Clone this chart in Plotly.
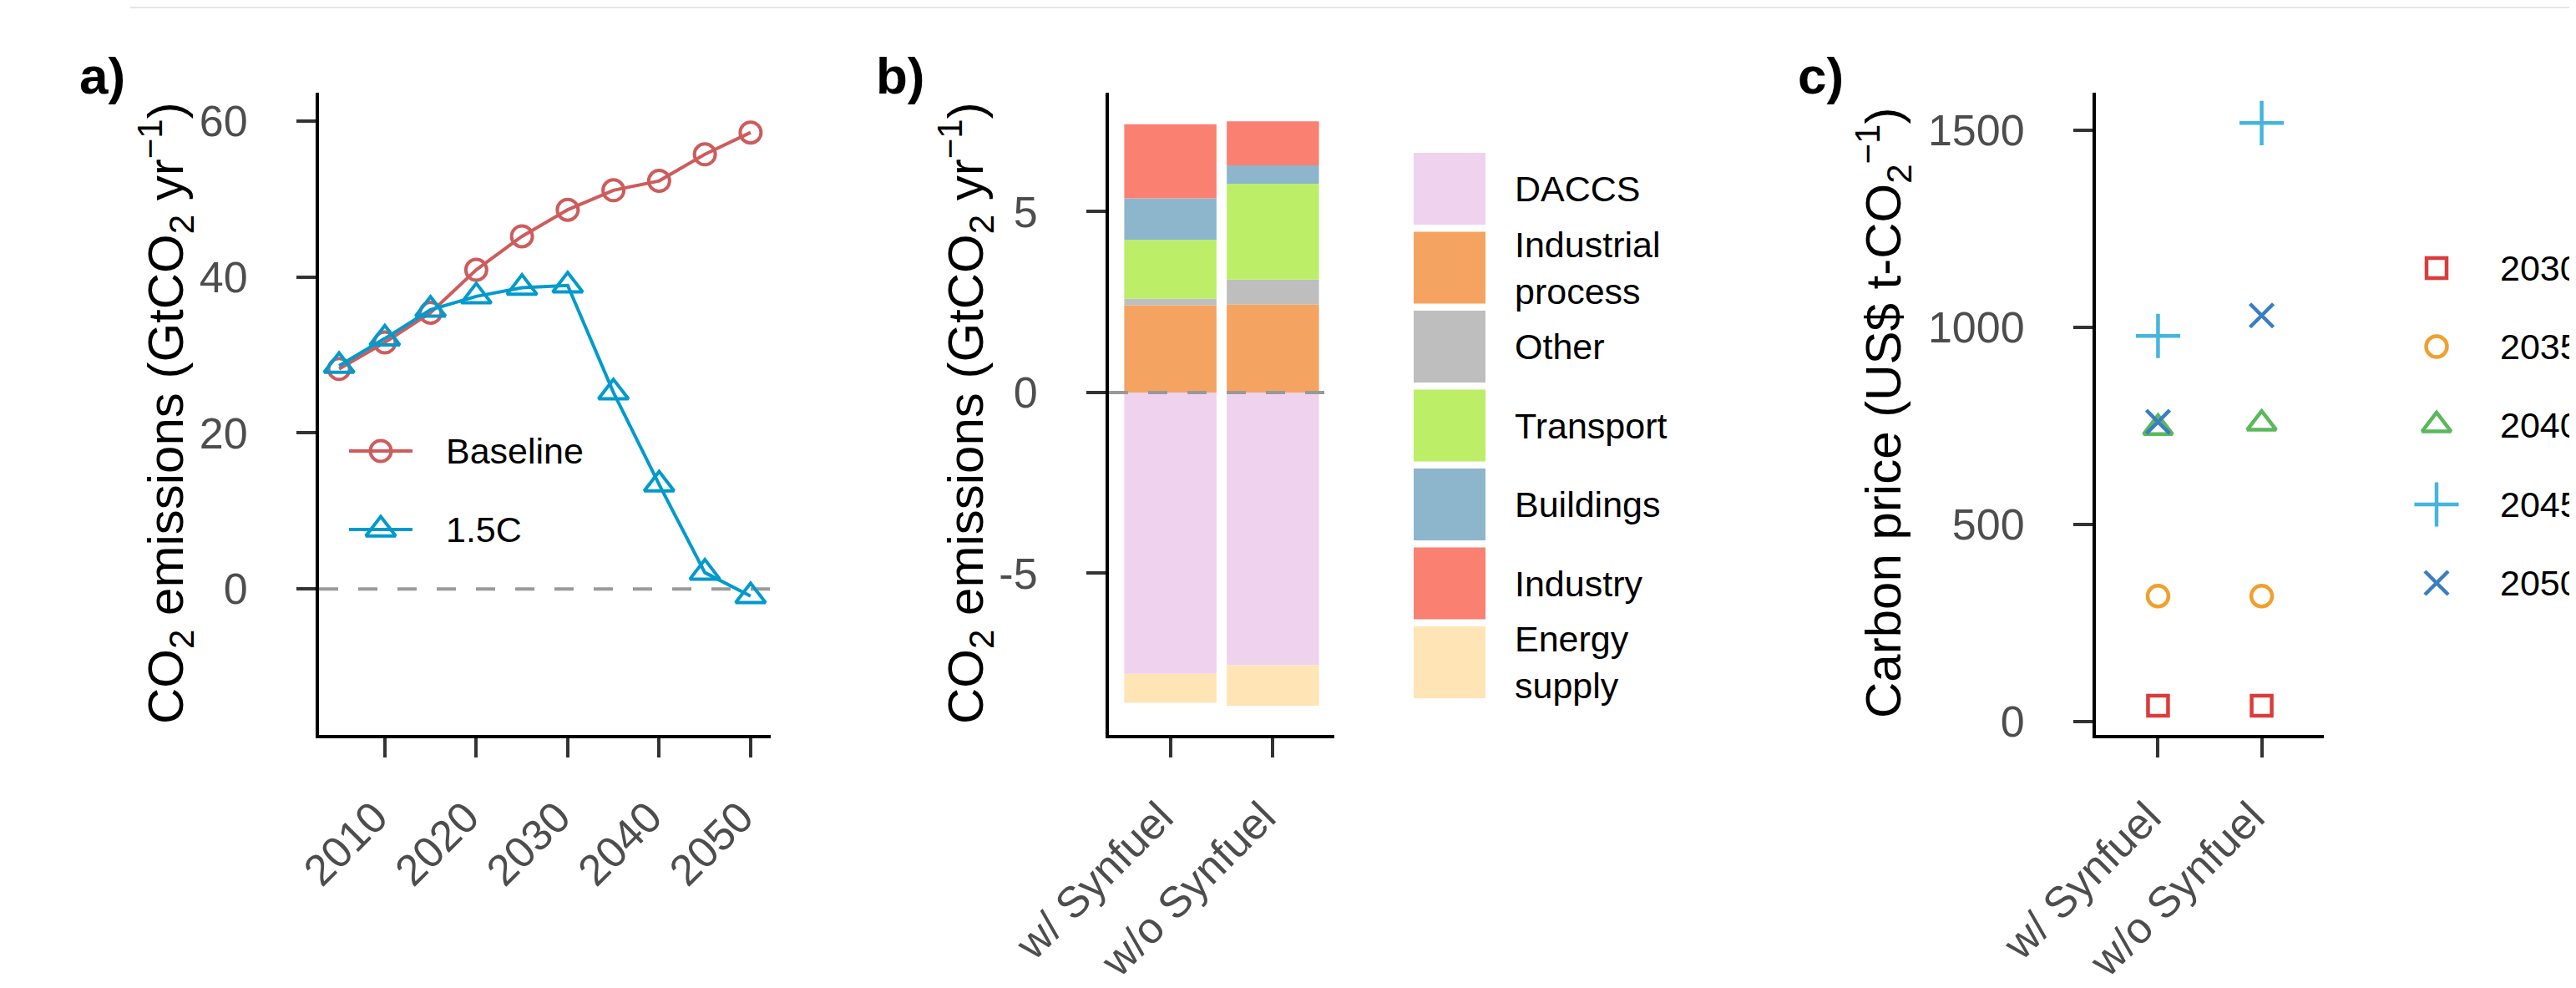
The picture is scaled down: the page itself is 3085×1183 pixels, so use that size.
import plotly.graph_objects as go

# ---------------- data ----------------
years = [2005, 2010, 2015, 2020, 2025, 2030, 2035, 2040, 2045, 2050]
baseline = [28.2, 31.6, 35.4, 40.9, 45.2, 48.6, 51.1, 52.3, 55.7, 58.5]
pathway_15c = [28.6, 32.1, 35.8, 37.5, 38.6, 38.9, 25.2, 13.4, 2.1, -0.9]
year_ticks = [2010, 2020, 2030, 2040, 2050]

scenarios = ["w/ Synfuel", "w/o Synfuel"]
sectors = ["DACCS", "Industrial process", "Other", "Transport", "Buildings", "Industry", "Energy supply"]
sector_labels = ["DACCS", "Industrial<br>process", "Other", "Transport", "Buildings", "Industry", "Energy<br>supply"]
daccs = [-7.78, -7.54]
industrial_process = [2.41, 2.43]
other = [0.18, 0.69]
transport = [1.63, 2.65]
buildings = [1.15, 0.51]
industry = [2.05, 1.22]
energy_supply = [-0.80, -1.12]
sector_values = [daccs, industrial_process, other, transport, buildings, industry, energy_supply]
sector_colors = ["#EED2EE", "#F4A460", "#BEBEBE", "#BCEE68", "#8DB6CD", "#FA8072", "#FFE4B5"]

price_years = ["2030", "2035", "2040", "2045", "2050"]
price_w_synfuel = [40, 318, 745, 978, 760]
price_wo_synfuel = [40, 318, 756, 1518, 1030]
price_symbols = ["square-open", "circle-open", "triangle-up-open", "cross-thin-open", "x-thin-open"]
price_sizes = [24, 25, 30, 38, 28]
price_colors = ["#DC3B3B", "#F0A02E", "#5BB85C", "#45B5DD", "#3A7DC2"]

# ---------------- layout helpers ----------------
W, H = 3085, 1183
FONT = "Liberation Sans, Arial, sans-serif"
TICKFONT = dict(family=FONT, size=52, color="#4D4D4D")
BASE_COL = "#CD5C5C"
C15_COL = "#009ACD"
LEGFONT = dict(family=FONT, size=43, color="black")


def xd(a, b):
    return [a / W, b / W]


YDOM = [1 - 872 / H, 1 - 103 / H]

axis_common = dict(showline=True, linecolor="black", linewidth=4, ticks="outside",
                   ticklen=23, tickwidth=4, tickcolor="#333333", showgrid=False,
                   zeroline=False, tickfont=TICKFONT, fixedrange=True, automargin=False)
xaxis_common = dict(tickangle=-45, ticklabelshift=-12, ticklabelstandoff=20, **axis_common)
yaxis_common = dict(ticklabelstandoff=48, **axis_common)

fig = go.Figure()

# ---- panel a ----
fig.add_trace(go.Scatter(x=years, y=baseline, mode="lines+markers", xaxis="x", yaxis="y",
                         line=dict(color=BASE_COL, width=4),
                         marker=dict(symbol="circle-open", size=25, color=BASE_COL,
                                     line=dict(width=4, color=BASE_COL)),
                         showlegend=False))
fig.add_trace(go.Scatter(x=years, y=pathway_15c, mode="lines+markers", xaxis="x", yaxis="y",
                         line=dict(color=C15_COL, width=4),
                         marker=dict(symbol="triangle-up-open", size=31, color=C15_COL,
                                     line=dict(width=4, color=C15_COL)),
                         showlegend=False))

# ---- panel b ----
for name, vals, col in zip(sectors, sector_values, sector_colors):
    fig.add_trace(go.Bar(x=scenarios, y=vals, name=name, xaxis="x2", yaxis="y2",
                         marker=dict(color=col, line=dict(width=0)), width=0.9,
                         showlegend=False))

# ---- panel c ----
for i, yr in enumerate(price_years):
    fig.add_trace(go.Scatter(x=scenarios, y=[price_w_synfuel[i], price_wo_synfuel[i]],
                             mode="markers", xaxis="x3", yaxis="y3", name=yr,
                             marker=dict(symbol=price_symbols[i], size=price_sizes[i], color=price_colors[i],
                                         line=dict(width=4.5, color=price_colors[i])),
                             showlegend=False))

# ---- legend keys (drawn on a pixel overlay axis) ----
leg_a_y = [532, 626]
for yy, col, sym, sz in [(leg_a_y[0], BASE_COL, "circle-open", 25), (leg_a_y[1], C15_COL, "triangle-up-open", 31)]:
    fig.add_trace(go.Scatter(x=[410, 486], y=[yy, yy], mode="lines", xaxis="x4", yaxis="y4",
                             line=dict(color=col, width=4), showlegend=False, hoverinfo="skip"))
    fig.add_trace(go.Scatter(x=[448], y=[yy], mode="markers", xaxis="x4", yaxis="y4",
                             marker=dict(symbol=sym, size=sz, color=col, line=dict(width=4, color=col)),
                             showlegend=False, hoverinfo="skip"))
leg_c_y = [313, 407, 501, 596, 690]
for i, yr in enumerate(price_years):
    fig.add_trace(go.Scatter(x=[2910], y=[leg_c_y[i]], mode="markers", xaxis="x4", yaxis="y4",
                             marker=dict(symbol=price_symbols[i], size=price_sizes[i], color=price_colors[i],
                                         line=dict(width=4.5, color=price_colors[i])),
                             showlegend=False, hoverinfo="skip"))

shapes = []
annotations = []
# zero lines
shapes.append(dict(type="line", xref="x domain", yref="y", x0=0, x1=1, y0=0, y1=0,
                   line=dict(color="#999999", width=4, dash="23px,24px"), layer="below"))
shapes.append(dict(type="line", xref="x2 domain", yref="y2", x0=0, x1=1, y0=0, y1=0,
                   line=dict(color="#999999", width=4, dash="23px,24px"), layer="above"))
# faint top rule
shapes.append(dict(type="line", xref="x4", yref="y4", x0=148, x1=3085, y0=1, y1=1,
                   line=dict(color="#E6E6E6", width=2), layer="above"))

# legend b boxes
for i, (lab, col) in enumerate(zip(sector_labels, sector_colors)):
    top = 175 + i * 94.5
    shapes.append(dict(type="rect", xref="x4", yref="y4", x0=1685, x1=1771, y0=top, y1=top + 86,
                       fillcolor=col, line=dict(width=0), layer="above"))
    annotations.append(dict(xref="x4", yref="y4", x=1804, y=top + 43, text=lab, showarrow=False,
                            xanchor="left", yanchor="middle", align="left", font=LEGFONT))

# legend a texts
for yy, lab in zip(leg_a_y, ["Baseline", "1.5C"]):
    annotations.append(dict(xref="x4", yref="y4", x=524, y=yy, text=lab, showarrow=False,
                            xanchor="left", yanchor="middle", font=LEGFONT))
# legend c texts
for yy, lab in zip(leg_c_y, price_years):
    annotations.append(dict(xref="x4", yref="y4", x=2984, y=yy, text=lab, showarrow=False,
                            xanchor="left", yanchor="middle", font=LEGFONT))

# panel letters
for xx, lab in [(114, "a)"), (1070, "b)"), (2172, "c)")]:
    annotations.append(dict(xref="x4", yref="y4", x=xx, y=82, text="<b>%s</b>" % lab, showarrow=False,
                            xanchor="center", yanchor="middle", font=dict(family=FONT, size=62, color="black")))

# y-axis titles
ytitle_em = "CO<sub>2</sub> emissions (GtCO<sub>2</sub> yr<sup>\u22121</sup>)"
for xx, txt in [(190, ytitle_em), (1148, ytitle_em), (2247, "Carbon price (US$ t-CO<sub>2</sub><sup>\u22121</sup>)")]:
    annotations.append(dict(xref="x4", yref="y4", x=xx, y=487, text=txt, showarrow=False, textangle=-90,
                            xanchor="center", yanchor="middle", font=dict(family=FONT, size=60, color="black")))

fig.update_layout(
    template="none",
    width=W, height=H, autosize=False,
    margin=dict(l=0, r=0, t=0, b=0, pad=0),
    paper_bgcolor="white", plot_bgcolor="rgba(0,0,0,0)",
    barmode="relative", bargap=0.1,
    showlegend=False,
    xaxis=dict(domain=xd(374, 915), range=[2002.8, 2052.2], tickvals=year_ticks, anchor="y", **xaxis_common),
    yaxis=dict(domain=YDOM, range=[-18.7, 63.6], tickvals=[0, 20, 40, 60], anchor="x", **yaxis_common),
    xaxis2=dict(domain=xd(1320, 1590), range=[-0.6, 1.6], type="category", anchor="y2", **xaxis_common),
    yaxis2=dict(domain=YDOM, range=[-9.47, 8.29], tickvals=[-5, 0, 5], ticktext=["-5", "0", "5"],
                anchor="x2", **yaxis_common),
    xaxis3=dict(domain=xd(2502, 2775), range=[-0.6, 1.6], type="category", anchor="y3", **xaxis_common),
    yaxis3=dict(domain=YDOM, range=[-34, 1595], tickvals=[0, 500, 1000, 1500], anchor="x3", **yaxis_common),
    xaxis4=dict(domain=[0, 1], range=[0, W], visible=False, fixedrange=True, anchor="y4",
                showticklabels=False, automargin=False),
    yaxis4=dict(domain=[0, 1], range=[H, 0], visible=False, fixedrange=True, anchor="x4",
                showticklabels=False, automargin=False),
    shapes=shapes,
    annotations=annotations,
)

fig.write_html("out.html")
